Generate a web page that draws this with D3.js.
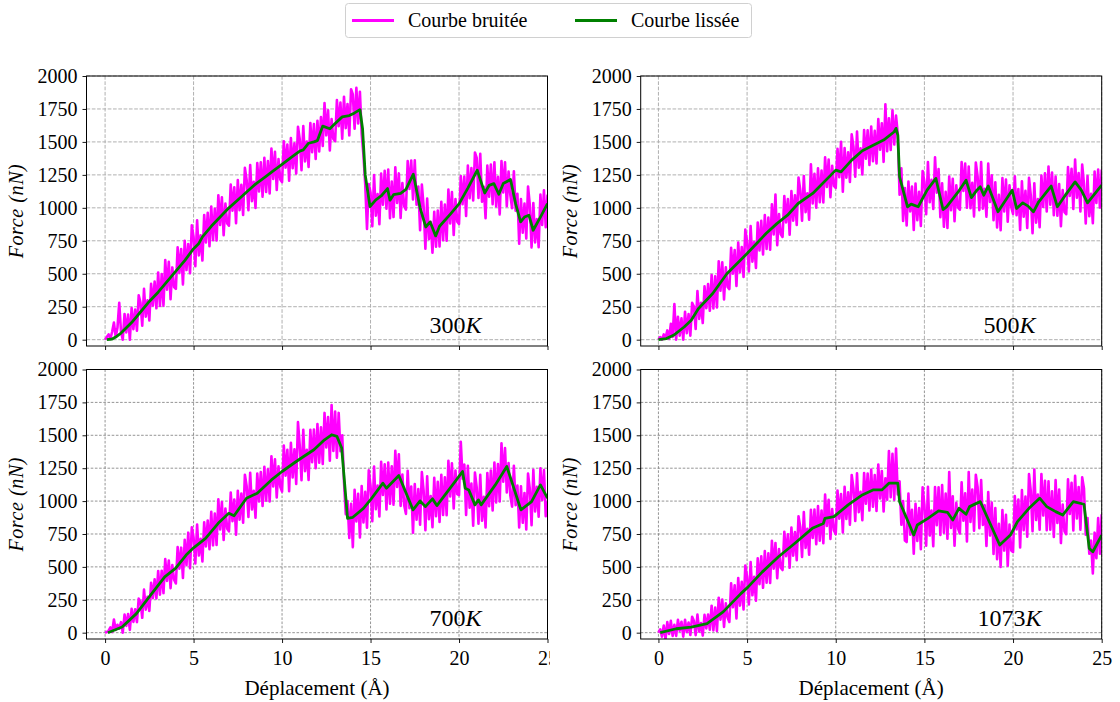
<!DOCTYPE html>
<html><head><meta charset="utf-8">
<script src="https://cdn.jsdelivr.net/npm/d3@7"></script>
<style>body{margin:0;background:#fff}svg{display:block}text{font-family:"Liberation Serif","DejaVu Serif",serif;fill:#000}</style>
</head><body><svg id="c" width="1120" height="702"></svg>
<script>
const temperatures = ["300", "500", "700", "1073"];
const seriesNames = ["Courbe bruitée", "Courbe lissée"];
const xTicks = [0, 5, 10, 15, 20, 25];
const yTicks = [0, 250, 500, 750, 1000, 1250, 1500, 1750, 2000];
const xLabel = "Déplacement (Å)";
const yLabel = "Force (nN)";
const noisyStart = 0, noisyStep = 0.1;

const noisy300 = [
0,20,40,5,60,130,20,90,280,60,
0,195,55,190,0,240,80,228,68,337,
282,106,386,174,298,146,424,258,440,238,
510,256,497,258,604,380,591,307,548,399,
385,701,507,688,419,750,528,726,504,867,
780,558,906,639,792,600,946,737,963,709,
1010,754,993,752,1096,870,1079,793,1032,881,
865,1177,979,1156,883,1210,982,1174,946,1303,
1210,982,1324,1051,1198,1000,1340,1125,1345,1085,
1380,1120,1355,1110,1450,1220,1425,1135,1370,1215,
1195,1505,1305,1480,1205,1530,1300,1490,1260,1615,
1520,1285,1620,1352,1503,1310,1643,1422,1635,1370,
1660,1427,1688,1470,1795,1550,1740,1435,1673,1522,
1505,1818,1620,1798,1525,1843,1605,1788,1550,1900,
1860,1600,1910,1640,1880,1560,1400,1180,840,1180,
1117,860,1249,941,1104,876,1260,1024,1280,993,
1290,922,1199,930,1307,1037,1261,923,1188,1011,
987,1354,1144,1358,1063,1360,1023,1162,830,1176,
1012,690,1071,763,894,660,970,705,979,707,
1045,754,1024,750,1139,882,1119,795,1066,895,
877,1241,1027,1238,939,1320,1073,1302,1056,1420,
1379,1075,1409,1046,1159,921,1320,1085,1328,1027,
1345,1010,1236,950,1354,1116,1345,1013,1275,1096,
997,1277,979,1106,728,1067,812,1032,767,1162,
1022,700,1037,738,914,701,1100,870,1133,853,
1100];
const noisy500 = [
0,20,0,40,15,70,5,120,20,270,
0,174,30,162,0,212,49,194,31,280,
252,82,368,158,280,126,405,239,421,219,
491,237,481,245,594,372,586,305,549,400,
384,697,501,679,408,736,510,703,476,835,
743,517,861,591,740,544,888,677,902,646,
945,689,926,683,1026,798,1100,717,953,799,
779,1090,890,1067,797,1127,902,1096,871,1230,
1134,903,1242,967,1111,910,1330,1034,1258,1001,
1300,1043,1282,1041,1384,1158,1366,1080,1319,1167,
1151,1447,1232,1500,1123,1453,1228,1422,1197,1557,
1464,1236,1578,1304,1451,1253,1590,1372,1588,1325,
1617,1354,1585,1337,1674,1441,1642,1349,1785,1430,
1680,1440,1740,1480,1700,1560,1100,1300,900,1150,
867,1200,972,1161,833,1184,906,1122,863,1279,
1198,951,1347,1042,1212,992,1384,1115,1294,929,
1187,856,1122,847,1238,983,1221,899,1171,1001,
986,1347,1129,1336,1001,1314,998,1189,935,1344,
1241,983,1348,993,1144,933,1335,1045,1247,906,
1193,852,1099,830,1225,973,1215,895,1171,1005,
954,1239,944,1143,833,1202,933,1129,848,1227,
1094,807,1186,888,1067,854,1245,1007,1262,973,
1313,1024,1267,944,1237,940,1181,860,1135,967,
952,1310,1091,1296,992,1367,1077,1263,973,1328,
1181,882,1242,936,1106,884,1275,1037,1291,1002,
1290];
const noisy700 = [
0,5,15,40,5,100,20,60,30,80,
0,138,52,142,21,181,82,178,80,259,
239,113,328,175,273,165,380,262,406,261,
469,289,471,301,560,394,548,338,514,403,
374,651,486,646,416,706,513,760,490,801,
723,526,822,586,714,542,839,655,853,635,
918,664,905,666,1013,785,993,705,943,790,
770,1064,848,1011,745,1079,858,1057,836,1200,
1113,879,1215,936,1078,874,1210,998,1220,963,
1260,1003,1241,998,1341,1112,1317,1028,1264,1109,
1072,1422,1193,1390,1076,1443,1180,1394,1131,1600,
1421,1158,1541,1227,1389,1160,1542,1296,1543,1250,
1585,1292,1560,1283,1670,1407,1638,1307,1730,1381,
1680,1330,1670,1380,1500,1150,900,1000,720,980,
650,1086,846,1055,724,1114,837,1070,798,1234,
1118,848,1262,938,1118,884,1298,1046,1279,936,
1292,981,1265,973,1383,1108,1356,964,1201,971,
903,1230,946,1111,760,1130,859,1092,821,1221,
1080,778,1189,862,1038,801,1177,885,1147,841,
1200,894,1181,893,1307,1036,1288,945,1233,1053,
1045,1450,1171,1277,894,1268,950,1133,813,1217,
1104,829,1200,851,1032,799,1214,962,1233,928,
1293,990,1281,997,1440,1148,1404,1065,1289,1042,
958,1269,969,1118,800,1113,835,1062,784,1209,
1093,816,1237,921,1108,882,1250,1008,1235,885,
1000];
const noisy1073 = [
0,25,-30,55,-50,80,-10,90,-25,60,
-24,98,15,83,-30,98,4,77,-18,121,
90,-19,138,8,73,-22,135,33,138,22,
205,17,191,14,266,99,252,44,223,116,
81,375,193,361,108,416,206,387,176,510,
425,214,536,284,425,243,565,369,580,341,
620,380,603,378,698,487,682,414,636,493,
476,767,582,747,493,798,585,764,551,885,
804,576,917,644,790,592,934,720,936,672,
963,699,929,680,1049,812,1009,712,939,777,
749,1080,867,1054,762,1109,864,1067,821,1198,
1096,849,1211,916,1070,855,1213,980,1210,928,
1239,957,1197,925,1277,1021,1229,922,1174,1011,
1380,1030,1360,1010,1400,1050,1150,820,1000,700,
689,1057,745,934,600,980,698,947,635,1104,
972,661,1109,738,928,657,1106,816,1105,743,
1121,759,1057,715,1220,796,1036,661,987,792,
754,1143,851,1060,694,1220,842,1088,775,1200,
1108,794,1160,819,969,659,1069,738,988,598,
948,558,828,500,931,624,896,509,822,625,
613,1038,784,1012,647,1083,778,1034,729,1205,
1078,771,1240,856,1049,782,1206,890,1154,778,
1150,783,1075,728,1160,834,1087,681,974,771,
748,1165,902,1139,776,1193,869,1106,783,1180,
1096,744,872,600,700,450,760,566,871,600,
900];

const smoothX300 = [0.1,0.4,0.6,0.9,1.5,2,2.5,3,3.5,4,4.5,5,5.3,5.5,6,6.5,7,7.5,8,8.5,9,9.5,10,10.5,11,11.2,11.5,11.8,12,12.3,12.7,13,13.4,13.8,14.1,14.4,14.55,14.7,14.97,15.3,15.6,15.96,16.1,16.3,16.7,17,17.42,17.8,18.12,18.37,18.68,18.9,19.5,20,20.5,21.03,21.45,21.7,21.97,22.25,22.5,22.91,23.2,23.48,23.7,23.95,24.19,24.6,25];
const smoothY300 = [0,5,20,50,130,210,290,360,440,520,600,690,730,780,860,930,1000,1060,1120,1180,1230,1280,1330,1380,1430,1440,1490,1500,1510,1620,1600,1640,1690,1700,1720,1745,1600,1250,1010,1060,1090,1146,1058,1100,1110,1140,1255,1000,855,893,787,860,950,1030,1150,1285,1113,1170,1184,1103,1184,1215,1030,893,930,944,830,930,1032];
const smoothX500 = [0,0.44,0.85,1.45,1.85,2.25,3.06,3.86,5,6.07,6.68,7.28,7.88,8.7,10,10.3,10.9,11.5,12.7,13.3,13.4,13.5,13.6,14.05,14.25,14.65,15.15,15.65,16.05,16.25,16.95,17.35,17.65,17.96,18.15,18.35,18.6,19.15,19.95,20.2,20.55,20.85,21.15,21.45,22.15,22.5,22.95,23.5,23.85,24.2,25];
const smoothY500 = [0,8,33,96,147,235,350,500,653,805,880,944,1033,1109,1286,1273,1362,1433,1514,1577,1603,1552,1235,1008,1028,1008,1134,1223,987,1008,1129,1210,1078,1134,1160,1096,1165,970,1134,995,1038,1013,970,1046,1165,1008,1096,1197,1134,1038,1172];
const smoothX700 = [0.16,0.96,1.77,2.57,3.37,3.98,4.58,5,5.68,6.39,6.99,7.29,7.99,8.6,9.4,10,10.4,10.8,11.2,11.8,12.4,12.8,13.1,13.37,13.7,14,14.6,15.04,15.7,15.9,16.6,17.4,17.8,18.1,18.5,18.75,19.85,20.2,20.35,20.55,20.9,21.1,21.25,22.05,22.7,23.5,24.1,24.6,25];
const smoothY700 = [0,43,145,285,424,488,590,645,717,831,907,889,1022,1060,1161,1225,1263,1301,1337,1390,1466,1504,1492,1403,869,877,945,1017,1136,1098,1194,933,1001,958,1017,966,1161,1225,1098,1085,971,1009,971,1123,1263,933,996,1123,1022];
const smoothX1073 = [0.1,1,1.85,2.74,3.65,4.65,5.06,5.86,6.77,7.68,8.68,9.3,9.39,9.9,10.7,11.5,12.1,12.6,13,13.5,13.6,14.4,14.6,15.2,15.8,16.3,16.6,16.95,17.35,17.55,18.15,19.25,19.85,20.25,20.9,21.5,21.9,22.4,22.8,23.4,24,24.3,24.5,24.8,25];
const smoothY1073 = [0,30,43,69,158,297,348,462,577,678,793,830,869,882,971,1047,1085,1085,1136,1136,996,742,818,869,925,915,856,945,900,958,996,666,742,844,945,1022,958,920,894,996,976,640,615,691,742];

const COLORS = {noisy: "#ff00ff", smooth: "#008000"};
const panels = [
  {t: temperatures[0], noisy: noisy300, sx: smoothX300, sy: smoothY300, L: 86.5, R: 547.5, T: 76, B: 346, xmin: -1.05, bottom: false},
  {t: temperatures[1], noisy: noisy500, sx: smoothX500, sy: smoothY500, L: 640.7, R: 1101.7, T: 76, B: 346, xmin: -1.0, bottom: false},
  {t: temperatures[2], noisy: noisy700, sx: smoothX700, sy: smoothY700, L: 86.5, R: 547.5, T: 369.5, B: 639, xmin: -1.05, bottom: true},
  {t: temperatures[3], noisy: noisy1073, sx: smoothX1073, sy: smoothY1073, L: 640.7, R: 1101.7, T: 369.5, B: 639, xmin: -1.0, bottom: true}
];

const FONT = '"Liberation Serif", serif';
const svg = d3.select("#c");
const defs = svg.append("defs");
defs.append("clipPath").attr("id", "leftcol").append("rect").attr("x", 0).attr("y", 0).attr("width", 550).attr("height", 702);

panels.forEach((p, i) => {
  const x = d3.scaleLinear().domain([p.xmin, 25]).range([p.L, p.R]);
  const y = d3.scaleLinear().domain([-48, 2000]).range([p.B, p.T]);
  const g = svg.append("g");
  if (p.L < 300) g.attr("clip-path", "url(#leftcol)");
  const cid = "clip" + i;
  defs.append("clipPath").attr("id", cid).append("rect")
    .attr("x", p.L).attr("y", p.T).attr("width", p.R - p.L).attr("height", p.B - p.T);

  const gridStyle = p.bottom ? {c: "#7a7a7a", w: 0.8, d: "2.6,1.6"} : {c: "#b0b0b0", w: 1, d: "3.7,1.6"};
  const grid = g.append("g");
  xTicks.forEach(v => grid.append("line").attr("x1", x(v)).attr("x2", x(v)).attr("y1", p.T).attr("y2", p.B)
    .attr("stroke", gridStyle.c).attr("stroke-width", gridStyle.w).attr("stroke-dasharray", gridStyle.d));
  yTicks.forEach(v => grid.append("line").attr("x1", p.L).attr("x2", p.R).attr("y1", y(v)).attr("y2", y(v))
    .attr("stroke", gridStyle.c).attr("stroke-width", gridStyle.w).attr("stroke-dasharray", gridStyle.d));

  const dg = g.append("g").attr("clip-path", `url(#${cid})`);
  const noisyPts = p.noisy.map((v, k) => [noisyStart + k * noisyStep, v]);
  dg.append("path").datum(noisyPts)
    .attr("d", d3.line().x(d => x(d[0])).y(d => y(d[1])))
    .attr("fill", "none").attr("stroke", COLORS.noisy).attr("stroke-width", 2.6).attr("stroke-linejoin", "round");
  const smoothPts = p.sx.map((v, k) => [v, p.sy[k]]);
  dg.append("path").datum(smoothPts)
    .attr("d", d3.line().x(d => x(d[0])).y(d => y(d[1])))
    .attr("fill", "none").attr("stroke", COLORS.smooth).attr("stroke-width", 2.8).attr("stroke-linejoin", "round");

  g.append("rect").attr("x", p.L).attr("y", p.T).attr("width", p.R - p.L).attr("height", p.B - p.T)
    .attr("fill", "none").attr("stroke", "#000").attr("stroke-width", 1);

  const xa = d3.axisBottom(x).tickValues(xTicks).tickSize(4).tickPadding(8).tickFormat(p.bottom ? d3.format("d") : () => "");
  const xg = g.append("g").attr("transform", `translate(0,${p.B})`).call(xa);
  xg.select(".domain").remove();
  xg.selectAll("text").attr("font-size", 20).style("font-family", FONT);
  const ya = d3.axisLeft(y).tickValues(yTicks).tickSize(4).tickPadding(5).tickFormat(d3.format("d"));
  const yg = g.append("g").attr("transform", `translate(${p.L},0)`).call(ya);
  yg.select(".domain").remove();
  yg.selectAll("text").attr("font-size", 20).style("font-family", FONT);
  g.selectAll(".tick line").attr("stroke", "#000").attr("stroke-width", 0.9);

  g.append("text").attr("transform", `translate(${p.L - 64},${(p.T + p.B) / 2}) rotate(-90)`)
    .attr("text-anchor", "middle").attr("font-size", 20).attr("font-style", "italic")
    .attr("letter-spacing", 0.6).text(yLabel);

  const tl = g.append("text").attr("x", x(19.8)).attr("y", p.B - 13).attr("text-anchor", "middle").attr("font-size", 24);
  tl.append("tspan").text(p.t);
  tl.append("tspan").attr("font-style", "italic").text("K");

  if (p.bottom) {
    g.append("text").attr("x", (p.L + p.R) / 2).attr("y", 695).attr("text-anchor", "middle").attr("font-size", 21).text(xLabel);
  }
});

const lg = svg.append("g");
lg.append("rect").attr("x", 345.5).attr("y", 3.5).attr("width", 406).attr("height", 34).attr("rx", 3)
  .attr("fill", "#fff").attr("stroke", "#d0d0d0").attr("stroke-width", 1);
const legendItems = [{name: seriesNames[0], c: COLORS.noisy, x: 352}, {name: seriesNames[1], c: COLORS.smooth, x: 575}];
legendItems.forEach(it => {
  lg.append("line").attr("x1", it.x).attr("x2", it.x + 42).attr("y1", 20.5).attr("y2", 20.5)
    .attr("stroke", it.c).attr("stroke-width", 2.8);
  lg.append("text").attr("x", it.x + 56).attr("y", 27).attr("font-size", 20).text(it.name);
});
</script></body></html>
